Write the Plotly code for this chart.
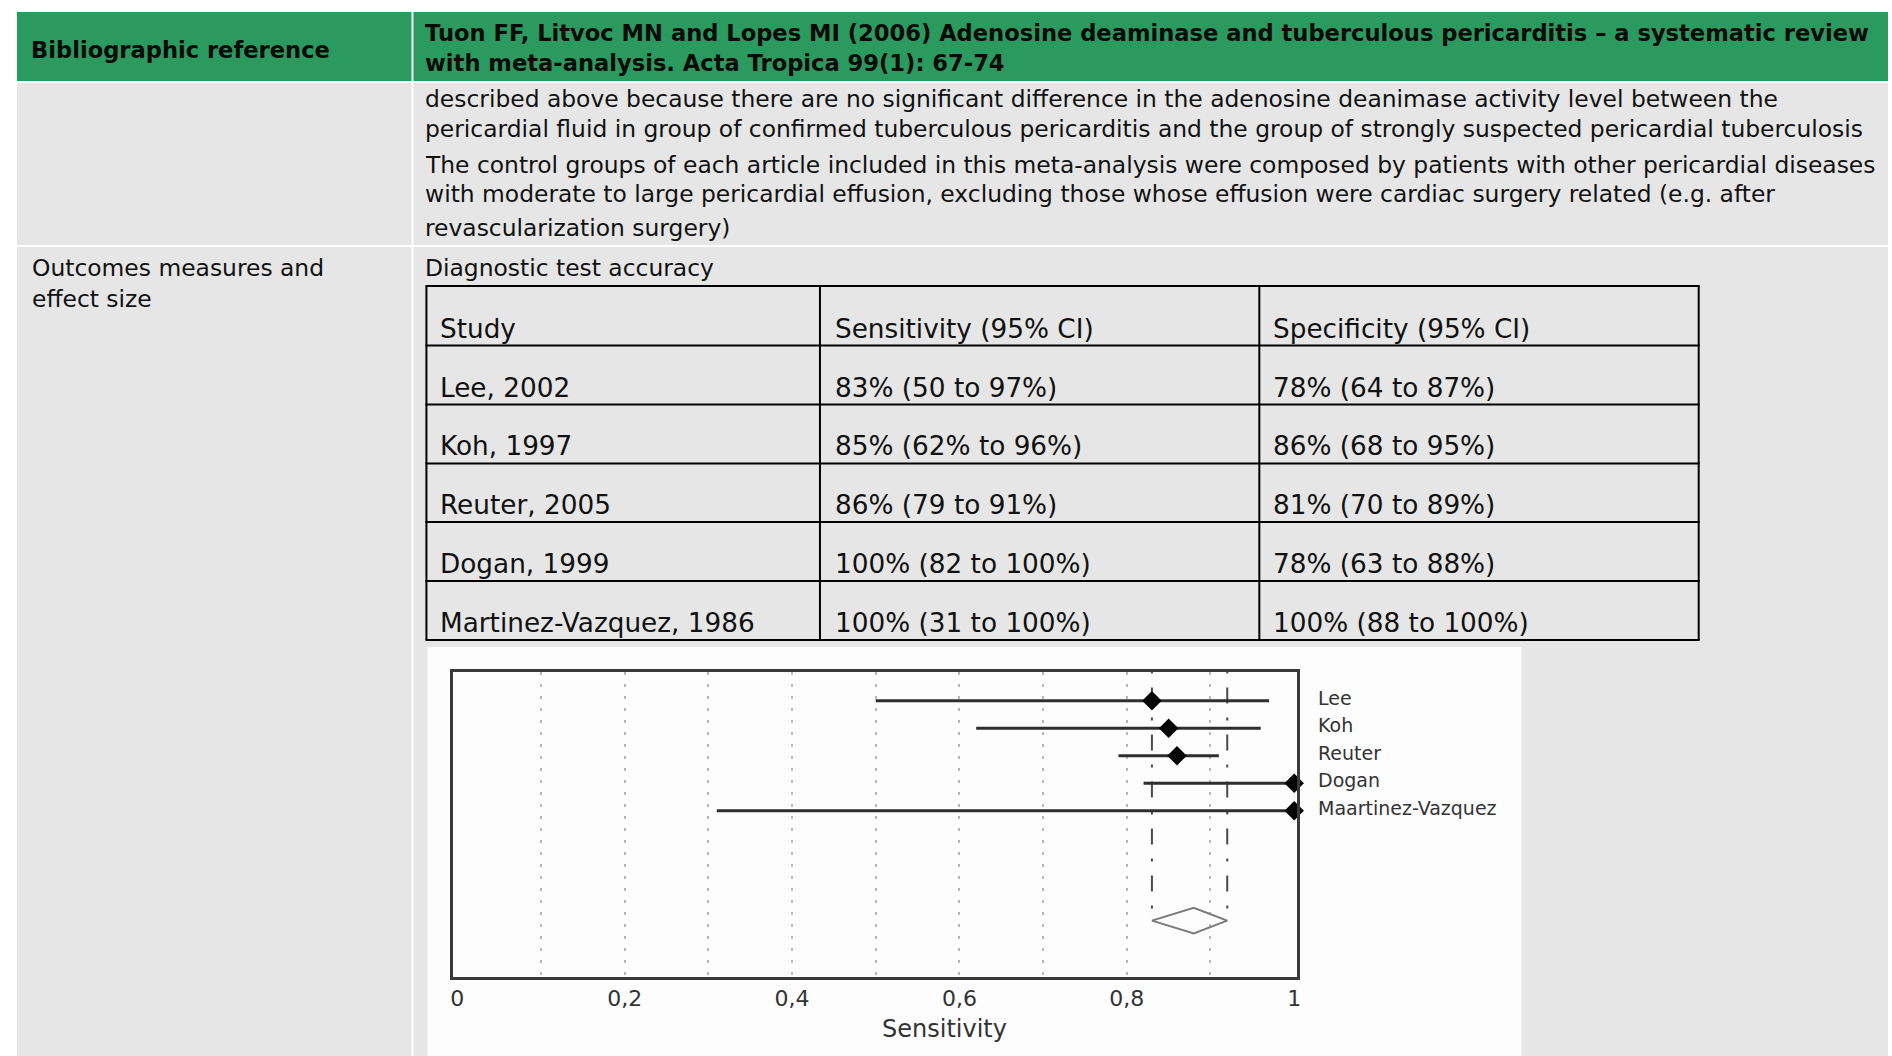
import plotly.graph_objects as go

W, H = 1892, 1056

# ---- document text -------------------------------------------------------
ref_label = "Bibliographic reference"
ref_lines = [
    "Tuon FF, Litvoc MN and Lopes MI (2006) Adenosine deaminase and tuberculous pericarditis \u2013 a systematic review",
    "with meta-analysis. Acta Tropica 99(1): 67-74",
]
note_lines = [
    "described above because there are no significant difference in the adenosine deanimase activity level between the",
    "pericardial fluid in group of confirmed tuberculous pericarditis and the group of strongly suspected pericardial tuberculosis",
    "The control groups of each article included in this meta-analysis were composed by patients with other pericardial diseases",
    "with moderate to large pericardial effusion, excluding those whose effusion were cardiac surgery related (e.g. after",
    "revascularization surgery)",
]
outcome_label = ["Outcomes measures and", "effect size"]
outcome_title = "Diagnostic test accuracy"
table_header = ["Study", "Sensitivity (95% CI)", "Specificity (95% CI)"]

# ---- per-study diagnostic accuracy (%) -----------------------------------
study_full = ["Lee, 2002", "Koh, 1997", "Reuter, 2005", "Dogan, 1999", "Martinez-Vazquez, 1986"]
study_short = ["Lee", "Koh", "Reuter", "Dogan", "Maartinez-Vazquez"]
sens = [83, 85, 86, 100, 100]
sens_lo = [50, 62, 79, 82, 31]
sens_hi = [97, 96, 91, 100, 100]
sens_lo_unit = ["", "%", "", "", ""]
spec = [78, 86, 81, 78, 100]
spec_lo = [64, 68, 70, 63, 88]
spec_hi = [87, 95, 89, 88, 100]

# pooled sensitivity with 95% CI
pooled = [88, 83, 92]

tick_vals = [0, 0.2, 0.4, 0.6, 0.8, 1]
tick_text = ["0", "0,2", "0,4", "0,6", "0,8", "1"]
grid_vals = [0.1, 0.2, 0.3, 0.4, 0.5, 0.6, 0.7, 0.8, 0.9]

FONT = "DejaVu Sans, Liberation Sans, Arial, sans-serif"
GREEN = "#2a9a5e"
GREY = "#e6e6e6"


def fx(px):
    return px / W


def fy(py):
    return 1 - py / H


shapes = []
annotations = []


def rect(x0, y0, x1, y1, color):
    shapes.append(dict(type="rect", xref="paper", yref="paper", layer="below",
                       x0=fx(x0), x1=fx(x1), y0=fy(y1), y1=fy(y0),
                       fillcolor=color, line=dict(width=0)))


def hline(x0, x1, y, w=2, color="#000"):
    shapes.append(dict(type="line", xref="paper", yref="paper", layer="below",
                       x0=fx(x0), x1=fx(x1), y0=fy(y), y1=fy(y),
                       line=dict(color=color, width=w)))


def vline(x, y0, y1, w=2, color="#000"):
    shapes.append(dict(type="line", xref="paper", yref="paper", layer="below",
                       x0=fx(x), x1=fx(x), y0=fy(y0), y1=fy(y1),
                       line=dict(color=color, width=w)))


def text(px, py, s, size, bold=False, color="#111"):
    annotations.append(dict(xref="paper", yref="paper", x=fx(px), y=fy(py),
                            xanchor="left", yanchor="middle", showarrow=False,
                            text=s, align="left",
                            font=dict(family=FONT, size=size, color=color,
                                      weight="bold" if bold else "normal")))


# cell backgrounds of the outer document table
rect(14, 12, 410, 81, GREEN)
rect(412, 12, W, 81, GREEN)
rect(14, 83, 410, 245, GREY)
rect(412, 83, W, 245, GREY)
rect(14, 247, 410, H, GREY)
rect(412, 247, W, H, GREY)
# figure panel
rect(426, 647, 1524, H, "#fdfdfd")

# header row
text(26, 50, ref_label, 22.6, bold=True, color="#0a0a0a")
for s, y in zip(ref_lines, [33, 63]):
    text(422, y, s, 22.6, bold=True, color="#0a0a0a")

# notes row
for s, y in zip(note_lines, [99, 129, 164.5, 194, 227.5]):
    text(422, y, s, 23.4)

# outcomes row
for s, y in zip(outcome_label, [267.7, 298.7]):
    text(27, y, s, 23.4)
text(422, 268, outcome_title, 23.4)

# inner accuracy table
row_edges = [286, 345.5, 404.5, 463.5, 522, 581, 640]
col_edges = [425, 820, 1261, 1702]
for y in row_edges:
    hline(col_edges[0] - 1, col_edges[-1] + 1, y)
for x in col_edges:
    vline(x, row_edges[0], row_edges[-1])
col_text_x = [437, 833, 1273]
row_text_y = [328.7, 387.5, 446, 504.5, 564, 622.5]
for j, s in enumerate(table_header):
    text(col_text_x[j], row_text_y[0], s, 26.3)
for i in range(len(study_full)):
    cells = [
        study_full[i],
        f"{sens[i]}% ({sens_lo[i]}{sens_lo_unit[i]} to {sens_hi[i]}%)",
        f"{spec[i]}% ({spec_lo[i]} to {spec_hi[i]}%)",
    ]
    for j, s in enumerate(cells):
        text(col_text_x[j], row_text_y[i + 1], s, 26.3)

# ---- forest plot of sensitivity -----------------------------------------
ypos = list(range(len(study_short)))
pooled_y = 8
half_h = 0.47

fig = go.Figure()

# pooled CI guide lines
for v in pooled[1:]:
    fig.add_trace(go.Scatter(x=[v / 100, v / 100], y=[-1.1, pooled_y], mode="lines",
                             line=dict(color="#4a4a4a", width=2, dash="3px,14px,16px,14px"),
                             hoverinfo="skip", showlegend=False))

# study confidence intervals
ci_x, ci_y = [], []
for i in ypos:
    ci_x += [sens_lo[i] / 100, sens_hi[i] / 100, None]
    ci_y += [i, i, None]
fig.add_trace(go.Scatter(x=ci_x, y=ci_y, mode="lines",
                         line=dict(color="#2e2e2e", width=3),
                         hoverinfo="skip", showlegend=False))

# point estimates
fig.add_trace(go.Scatter(x=[v / 100 for v in sens], y=ypos, mode="markers",
                         marker=dict(symbol="diamond", size=15, color="#050505",
                                     line=dict(width=0)),
                         text=study_short, hovertemplate="%{text}: %{x:.2f}<extra></extra>",
                         showlegend=False, cliponaxis=False))

# pooled estimate diamond
p_est, p_lo, p_hi = [v / 100 for v in pooled]
fig.add_trace(go.Scatter(x=[p_lo, p_est, p_hi, p_est, p_lo],
                         y=[pooled_y, pooled_y - half_h, pooled_y, pooled_y + half_h, pooled_y],
                         mode="lines", line=dict(color="#7a7a7a", width=2),
                         hoverinfo="skip", showlegend=False))

# study names to the right of the panel
for i, s in zip(ypos, study_short):
    annotations.append(dict(xref="paper", yref="y", x=fx(1318), y=i, yshift=3,
                            xanchor="left", yanchor="middle", showarrow=False, text=s,
                            font=dict(family=FONT, size=19, color="#333")))

annotations.append(dict(xref="paper", yref="paper", x=fx(945), y=fy(1029),
                        xanchor="center", yanchor="middle", showarrow=False,
                        text="Sensitivity", font=dict(family=FONT, size=24, color="#333")))

fig.update_layout(
    width=W, height=H, autosize=False,
    margin=dict(l=0, r=0, t=0, b=0),
    paper_bgcolor="#ffffff", plot_bgcolor="#ffffff",
    shapes=shapes, annotations=annotations,
    xaxis=dict(domain=[fx(452), fx(1299)], range=[-0.0048, 1.0036],
               tickvals=tick_vals, ticktext=tick_text, showgrid=False, zeroline=False,
               ticks="", ticklen=0,
               tickfont=dict(family=FONT, size=22, color="#333"),
               showline=True, mirror=True, linecolor="#3a3a3a", linewidth=3,
               minor=dict(tickvals=grid_vals, showgrid=True, gridcolor="#b8b8b8",
                          gridwidth=1.5, griddash="3px,9px", ticks="")),
    yaxis=dict(domain=[fy(977), fy(671.5)], range=[10.05, -1.06],
               showticklabels=False, showgrid=False, zeroline=False, ticks="",
               showline=True, mirror=True, linecolor="#3a3a3a", linewidth=3),
)

fig.write_html("out.html")
